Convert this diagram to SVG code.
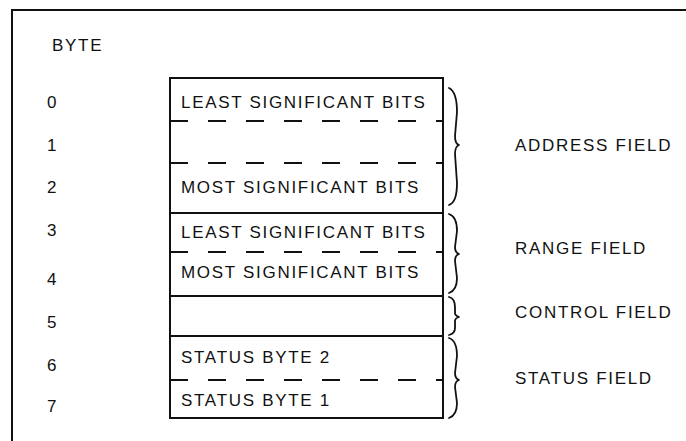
<svg xmlns="http://www.w3.org/2000/svg" width="686" height="441" viewBox="0 0 686 441">
<style>
text{font-family:"Liberation Sans",Arial,sans-serif;font-size:17px;fill:#111;letter-spacing:1.7px}
.frame{fill:none;stroke:#111;stroke-width:2}
.box{fill:none;stroke:#111;stroke-width:2}
.solid{stroke:#111;stroke-width:2}
.dash{stroke:#111;stroke-width:2.2;stroke-dasharray:18 20}
.brace{fill:none;stroke:#111;stroke-width:1.8;stroke-linecap:round;stroke-linejoin:round}
</style>
<rect width="686" height="441" fill="#fff"/>
<path class="frame" d="M12 441 V10 H686"/>
<g id="byte-header"><text x="52" y="51">BYTE</text></g>
<g id="byte-numbers">
<text x="47" y="108">0</text>
<text x="47" y="151">1</text>
<text x="47" y="193">2</text>
<text x="47" y="236">3</text>
<text x="47" y="285">4</text>
<text x="47" y="328">5</text>
<text x="47" y="371">6</text>
<text x="47" y="412">7</text>
</g>
<g id="record-box">
<rect class="box" x="170" y="78" width="273" height="340"/>
</g>
<g id="address-field">
<line class="dash" x1="170" y1="121" x2="443" y2="121"/>
<line class="dash" x1="170" y1="163" x2="443" y2="163"/>
<text x="181" y="108">LEAST SIGNIFICANT BITS</text>
<text x="181" y="193">MOST SIGNIFICANT BITS</text>
</g>
<g id="range-field">
<line class="solid" x1="170" y1="213" x2="443" y2="213"/>
<line class="dash" x1="170" y1="252" x2="443" y2="252"/>
<text x="181" y="238">LEAST SIGNIFICANT BITS</text>
<text x="181" y="278">MOST SIGNIFICANT BITS</text>
</g>
<g id="control-field">
<line class="solid" x1="170" y1="296" x2="443" y2="296"/>
</g>
<g id="status-field">
<line class="solid" x1="170" y1="336" x2="443" y2="336"/>
<line class="dash" x1="170" y1="380" x2="443" y2="380"/>
<text x="181" y="363">STATUS BYTE 2</text>
<text x="181" y="406">STATUS BYTE 1</text>
</g>
<g id="connectors">
<path class="brace" d="M449 88 C455 91 457 100 457 112 L455 136 C455 141 456 144 459 145 C456 146 455 149 455 154 L457 183 C457 196 455 203 449 205"/>
<path class="brace" d="M449 214 C455 216 457 223 457 231 L455 247 C455 251 456 253 459 254 C456 255 455 257 455 261 L457 278 C457 286 455 291 449 293"/>
<path class="brace" d="M449 297 C453 298 455 302 455 307 L455 313 C455 315 456 316 459 317 C456 318 455 319 455 321 L455 328 C455 332 453 334 449 335"/>
<path class="brace" d="M449 338 C455 340 457 347 457 356 L455 373 C455 377 456 379 459 380 C456 381 455 383 455 387 L457 403 C457 411 455 416 449 418"/>
</g>
<g id="labels">
<text x="515" y="151">ADDRESS FIELD</text>
<text x="515" y="254">RANGE FIELD</text>
<text x="515" y="318">CONTROL FIELD</text>
<text x="515" y="384">STATUS FIELD</text>
</g>
</svg>
